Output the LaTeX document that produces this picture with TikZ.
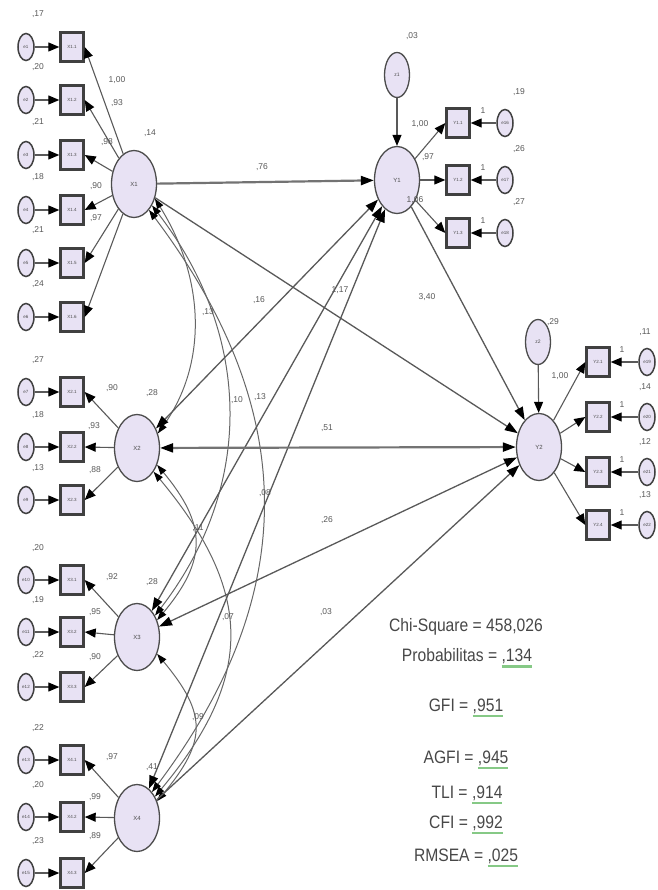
\documentclass[tikz,border=0pt]{standalone}
\usepackage{fontspec}
\setmainfont{Liberation Sans}
\usetikzlibrary{shapes.geometric,arrows.meta}
\definecolor{lav}{HTML}{E8E2F4}
\definecolor{ulg}{HTML}{86C986}
\newcommand\gul[1]{\setbox0\hbox{#1}\rlap{\textcolor{ulg}{\rule[-6pt]{\wd0}{2.5pt}}}\box0}
\begin{document}
\begin{tikzpicture}[x=1pt,y=-1pt,
  lat/.style={ellipse,fill=lav,draw=black!70,line width=1.3pt,minimum width=45pt,minimum height=67pt,inner sep=0pt,font=\fontsize{6}{7}\selectfont,text=black!70},
  dist/.style={ellipse,fill=lav,draw=black!70,line width=1.3pt,minimum width=25pt,minimum height=45pt,inner sep=0pt,font=\fontsize{5}{6}\selectfont,text=black!70},
  ind/.style={rectangle,fill=lav,draw=black!75,line width=2.4pt,minimum width=23pt,minimum height=29pt,inner sep=0pt,font=\fontsize{4.5}{5}\selectfont,text=black!70},
  err/.style={ellipse,fill=lav,draw=black!75,line width=1.5pt,minimum width=16pt,minimum height=27pt,inner sep=0pt,font=\fontsize{4.5}{5}\selectfont,text=black!70},
  lab/.style={font=\fontsize{8.5}{9}\selectfont,text=black!65,inner sep=0pt},
  stat/.style={font=\fontsize{18}{20}\selectfont,text=black!72,inner sep=0pt},
  ar/.style={-{Triangle[length=11pt,width=9pt,color=black]},draw=black!65,line width=1.1pt},
  pth/.style={-{Triangle[length=13pt,width=9pt,color=black]},draw=black!65,line width=1.3pt},
  dpth/.style={{Triangle[length=13pt,width=9pt,color=black]}-{Triangle[length=13pt,width=9pt,color=black]},draw=black!65,line width=1.3pt},
  cov/.style={{Triangle[length=10pt,width=7pt,color=black]}-{Triangle[length=10pt,width=7pt,color=black]},draw=black!60,line width=1pt}]
\useasboundingbox (0,0) rectangle (657,890);

% latent variables
\node[lat] (X1) at (134,184) {X1};
\node[lat] (X2) at (137,448) {X2};
\node[lat] (X3) at (137,637) {X3};
\node[lat] (X4) at (137,818) {X4};
\node[lat] (Y1) at (397,180) {Y1};
\node[lat] (Y2) at (539,447) {Y2};
\node[dist] (z1) at (397,75) {z1};
\node[dist] (z2) at (538,342) {z2};

% X1 indicators
\foreach \i/\y/\v in {1/47/{,17},2/100/{,20},3/155/{,21},4/210/{,18},5/263/{,21},6/317/{,24}}{
  \node[ind] (i1\i) at (72,\y) {X1.\i};
  \node[err] (e1\i) at (26,\y) {e\i};
  \node[lab] (v1\i) at (38,\y-33) {\v};
  \draw[ar] (e1\i) -- (i1\i);
  \draw[ar] (X1) -- (i1\i.east);
}
% X2 indicators
\foreach \i/\y/\v/\n in {1/392/{,27}/7,2/447/{,18}/8,3/500/{,13}/9}{
  \node[ind] (i2\i) at (72,\y) {X2.\i};
  \node[err] (e2\i) at (26,\y) {e\n};
  \node[lab] (v2\i) at (38,\y-32) {\v};
  \draw[ar] (e2\i) -- (i2\i);
  \draw[ar] (X2) -- (i2\i.east);
}
% X3 indicators
\foreach \i/\y/\v/\n in {1/580/{,20}/10,2/632/{,19}/11,3/687/{,22}/12}{
  \node[ind] (i3\i) at (72,\y) {X3.\i};
  \node[err] (e3\i) at (26,\y) {e\n};
  \node[lab] (v3\i) at (38,\y-32) {\v};
  \draw[ar] (e3\i) -- (i3\i);
  \draw[ar] (X3) -- (i3\i.east);
}
% X4 indicators
\foreach \i/\y/\v/\n in {1/760/{,22}/13,2/817/{,20}/14,3/873/{,23}/15}{
  \node[ind] (i4\i) at (72,\y) {X4.\i};
  \node[err] (e4\i) at (26,\y) {e\n};
  \node[lab] (v4\i) at (38,\y-32) {\v};
  \draw[ar] (e4\i) -- (i4\i);
  \draw[ar] (X4) -- (i4\i.east);
}
% Y1 indicators
\foreach \i/\y/\v/\n in {1/123/{,19}/16,2/180/{,26}/17,3/233/{,27}/18}{
  \node[ind] (j1\i) at (458,\y) {Y1.\i};
  \node[err] (f1\i) at (505,\y) {e\n};
  \node[lab] (w1\i) at (519,\y-31) {\v};
  \node[lab] (o1\i) at (483,\y-12) {1};
  \draw[ar] (f1\i) -- (j1\i);
  \draw[ar] (Y1) -- (j1\i.west);
}
% Y2 indicators
\foreach \i/\y/\v/\n in {1/362/{,11}/19,2/417/{,14}/20,3/472/{,12}/21,4/525/{,13}/22}{
  \node[ind] (j2\i) at (598,\y) {Y2.\i};
  \node[err] (f2\i) at (647,\y) {e\n};
  \node[lab] (w2\i) at (645,\y-30) {\v};
  \node[lab] (o2\i) at (622,\y-12) {1};
  \draw[ar] (f2\i) -- (j2\i);
  \draw[ar] (Y2) -- (j2\i.west);
}
\draw[ar] (z1) -- (Y1);
\draw[ar] (z2) -- (Y2);

% loadings and variances
\node[lab] at (117,80) {1,00};
\node[lab] at (117,103) {,93};
\node[lab] at (107,142) {,98};
\node[lab] at (96,186) {,90};
\node[lab] at (96,218) {,97};
\node[lab] at (112,388) {,90};
\node[lab] at (94,426) {,93};
\node[lab] at (95,470) {,88};
\node[lab] at (112,577) {,92};
\node[lab] at (95,612) {,95};
\node[lab] at (95,657) {,90};
\node[lab] at (112,757) {,97};
\node[lab] at (95,797) {,99};
\node[lab] at (95,836) {,89};
\node[lab] at (420,124) {1,00};
\node[lab] at (428,157) {,97};
\node[lab] at (415,200) {1,06};
\node[lab] at (560,376) {1,00};
\node[lab] at (150,133) {,14};
\node[lab] at (152,393) {,28};
\node[lab] at (152,582) {,28};
\node[lab] at (152,767) {,41};
\node[lab] at (412,36) {,03};
\node[lab] at (553,322) {,29};

% covariances between exogenous variables
\draw[cov] (X1.-35) .. controls +(50,80) and +(50,-70) .. (X2.35);
\draw[cov] (X1.-50) .. controls +(100,130) and +(100,-130) .. (X3.50);
\draw[cov] (X1.-60) .. controls +(150,200) and +(150,-200) .. (X4.60);
\draw[cov] (X2.-40) .. controls +(50,60) and +(50,-60) .. (X3.40);
\draw[cov] (X2.-55) .. controls +(100,120) and +(100,-120) .. (X4.50);
\draw[cov] (X3.-40) .. controls +(50,60) and +(50,-60) .. (X4.40);
\node[lab] at (208,312) {,13};
\node[lab] at (237,400) {,10};
\node[lab] at (260,397) {,13};
\node[lab] at (198,528) {,11};
\node[lab] at (228,617) {,07};
\node[lab] at (198,717) {,09};

% structural paths
\draw[pth,line width=2.2pt,draw=black!55] (X1) -- (Y1);
\draw[pth] (X1) -- (Y2);
\draw[dpth] (X2) -- (Y1);
\draw[dpth] (X3) -- (Y1);
\draw[dpth] (X4) -- (Y1);
\draw[pth] (Y1) -- (Y2);
\draw[dpth,line width=2.2pt,draw=black!55] (X2) -- (Y2);
\draw[dpth] (X3) -- (Y2);
\draw[pth] (X4) -- (Y2);
\node[lab] at (262,167) {,76};
\node[lab] at (259,300) {,16};
\node[lab] at (340,290) {1,17};
\node[lab] at (427,297) {3,40};
\node[lab] at (327,428) {,51};
\node[lab] at (265,493) {,08};
\node[lab] at (327,520) {,26};
\node[lab] at (326,612) {,03};

% fit statistics
\node[stat] (s1) at (466,627) {\scalebox{0.87}[1]{Chi-Square = 458,026}};
\node[stat] (s2) at (467,658) {\scalebox{0.87}[1]{Probabilitas = \gul{,134}}};
\node[stat] (s3) at (466,708) {\scalebox{0.87}[1]{GFI = \gul{,951}}};
\node[stat] (s4) at (466,760) {\scalebox{0.87}[1]{AGFI = \gul{,945}}};
\node[stat] (s5) at (467,795) {\scalebox{0.87}[1]{TLI = \gul{,914}}};
\node[stat] (s6) at (466,825) {\scalebox{0.87}[1]{CFI = \gul{,992}}};
\node[stat] (s7) at (466,858) {\scalebox{0.87}[1]{RMSEA = \gul{,025}}};
\end{tikzpicture}
\end{document}
